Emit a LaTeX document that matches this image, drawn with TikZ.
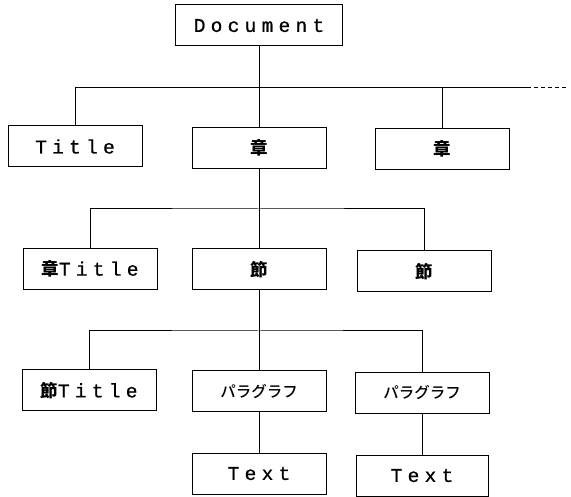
\documentclass[tikz,border=0pt]{standalone}
\usepackage{fontspec}
\newfontfamily\latfont{Liberation Mono}[LetterSpace=27, FakeBold=0.8]
\newfontfamily\jpfont{Noto Sans CJK JP Medium}
\newfontfamily\jpbold{Noto Sans CJK JP Black}
\usetikzlibrary{positioning}

\newcommand{\lat}[1]{{\latfont\fontsize{19.5pt}{21pt}\selectfont #1}}
\newcommand{\kan}[1]{{\jpbold\fontsize{17.5pt}{19pt}\selectfont #1}}
\newcommand{\kana}[1]{{\jpfont\fontsize{15.5pt}{17pt}\selectfont #1}}

\begin{document}
\begin{tikzpicture}[x=1pt, y=-1pt, line width=1pt,
  box/.style={draw, rectangle, minimum width=134pt, minimum height=41pt, inner sep=0pt},
  more/.style={dash pattern=on 4pt off 3pt}]
  \useasboundingbox (0,0) rectangle (571,497);

  % Root and first level
  \node[box, minimum width=167pt] (doc) at (259,25.5) {\lat{Document}};
  \node[box] (title) at (75,146.5) {\lat{Title}};
  \node[box] (chap) at (259,148) {\kan{章}};
  \node[box] (chapb) at (442,149) {\kan{章}};

  % Second level
  \node[box] (chtitle) at (90,269) {\kan{章}\lat{Title}};
  \node[box] (sec) at (259,269.5) {\kan{節}};
  \node[box] (secb) at (424,271.5) {\kan{節}};

  % Third level
  \node[box] (sectitle) at (89,390.5) {\kan{節}\lat{Title}};
  \node[box] (para) at (259,391.5) {\kana{パラグラフ}};
  \node[box] (parab) at (422,393) {\kana{パラグラフ}};
  \node[box] (text) at (259,473.5) {\lat{Text}};
  \node[box, minimum width=132pt] (textb) at (422,475.5) {\lat{Text}};

  % Branch lines
  \coordinate (bus1) at (259,88);
  \coordinate (bus1end) at (527,88);
  \coordinate (etc) at (568,88);
  \coordinate (bus2) at (259,209);
  \coordinate (bus3) at (259,331);

  \draw (doc) -- (chap);
  \draw (title.north) |- (bus1end);
  \draw (chapb.north) -- (chapb.north |- bus1);
  \draw[more] (bus1end) -- (etc);

  \draw (chap) -- (sec);
  \draw (chtitle.north) |- (bus2) -| (secb.north);

  \draw (sec) -- (para);
  \draw (sectitle.north) |- (bus3) -| (parab.north);
  \draw (para) -- (text);
  \draw (parab) -- (textb);
\end{tikzpicture}
\end{document}
